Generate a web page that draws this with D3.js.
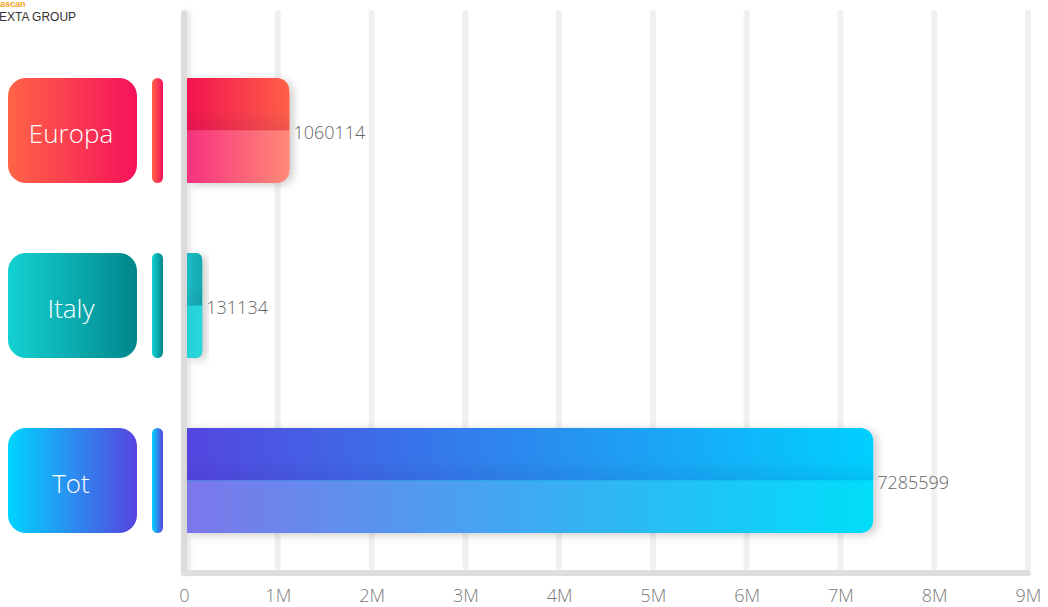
<!DOCTYPE html>
<html>
<head>
<meta charset="utf-8">
<script src="https://cdn.jsdelivr.net/npm/d3@7"></script>
<style>
  html, body { margin: 0; padding: 0; background: #fff; }
  svg { display: block; }
  text { font-family: "Open Sans", "Noto Sans", sans-serif; }
</style>
</head>
<body>
<svg id="chart" width="1048" height="607"></svg>
<script>
// Data
const categories = ["Europa", "Italy", "Tot"];
const values = [1060114, 131134, 7285599];
const tickValues = [0, 1e6, 2e6, 3e6, 4e6, 5e6, 6e6, 7e6, 8e6, 9e6];
const tickLabels = ["0", "1M", "2M", "3M", "4M", "5M", "6M", "7M", "8M", "9M"];

// Colour themes per category: box / pill gradient, bar top half, bar bottom half
const boxColors = [["#ff6446", "#f5125a"], ["#14d2d2", "#00868c"], ["#00d4ff", "#5745e0"]];
const barTopColors = [["#f2134f", "#ff5f49"], ["#1cbcc3", "#14a8b0"], ["#5446df", "#00d0ff"]];
const barBottomColors = [["#f6327f", "#ff8a76"], ["#22d0d6", "#2ad8dc"], ["#7c77ea", "#00def9"]];

const svg = d3.select("#chart");
const defs = svg.append("defs");

const x = d3.scaleLinear().domain([0, 9e6]).range([184, 1028]);
const y = d3.scaleBand().domain(categories).range([43, 568]).paddingInner(0.4).paddingOuter(0.2);

function hGrad(id, c) {
  const g = defs.append("linearGradient").attr("id", id)
    .attr("x1", "0%").attr("x2", "100%").attr("y1", "0%").attr("y2", "0%");
  g.append("stop").attr("offset", "0%").attr("stop-color", c[0]);
  g.append("stop").attr("offset", "100%").attr("stop-color", c[1]);
}
categories.forEach((c, i) => {
  hGrad("box" + i, boxColors[i]);
  hGrad("top" + i, barTopColors[i]);
  hGrad("bot" + i, barBottomColors[i]);
});
// slight darkening towards the middle line of each bar
const shade = defs.append("linearGradient").attr("id", "shade")
  .attr("x1", "0%").attr("x2", "0%").attr("y1", "0%").attr("y2", "100%");
shade.append("stop").attr("offset", "0%").attr("stop-color", "#000").attr("stop-opacity", 0);
shade.append("stop").attr("offset", "60%").attr("stop-color", "#000").attr("stop-opacity", 0);
shade.append("stop").attr("offset", "100%").attr("stop-color", "#200080").attr("stop-opacity", 0.08);

const shadow = defs.append("filter").attr("id", "shadow")
  .attr("x", "-20%").attr("y", "-20%").attr("width", "160%").attr("height", "140%");
shadow.append("feDropShadow").attr("dx", 4).attr("dy", 2).attr("stdDeviation", 4)
  .attr("flood-color", "#000").attr("flood-opacity", 0.2);

const axisShadow = defs.append("filter").attr("id", "axisShadow")
  .attr("x", "-200%").attr("y", "-5%").attr("width", "500%").attr("height", "110%");
axisShadow.append("feDropShadow").attr("dx", 3).attr("dy", 0).attr("stdDeviation", 2.5)
  .attr("flood-color", "#000").attr("flood-opacity", 0.1);

// Logo fragment, top-left
svg.append("text").attr("x", 0).attr("y", 7)
  .style("font-family", "Liberation Sans, Arial, sans-serif")
  .style("font-weight", "bold").style("font-size", "9px").attr("fill", "#f4a11a")
  .text("ascan");
svg.append("text").attr("x", -1).attr("y", 21)
  .style("font-family", "Liberation Sans, Arial, sans-serif")
  .style("font-size", "12px").attr("fill", "#333")
  .text("EXTA GROUP");

// Vertical gridlines
svg.append("g").selectAll("rect").data(tickValues.slice(1)).join("rect")
  .attr("x", d => x(d) - 3).attr("width", 6)
  .attr("y", 10).attr("height", 560).attr("rx", 3)
  .attr("fill", "#f0f0f0");

// Axis lines
svg.append("rect").attr("x", x(0) - 3).attr("width", 6).attr("y", 10).attr("height", 566).attr("rx", 3)
  .attr("fill", "#dcdcdc").attr("filter", "url(#axisShadow)");
svg.append("rect").attr("x", x(0) - 3).attr("width", x(9e6) - x(0) + 6).attr("y", 570).attr("height", 6).attr("rx", 3)
  .attr("fill", "#dedede");

// Tick labels via d3 axis
const xAxis = d3.axisBottom(x).tickValues(tickValues)
  .tickFormat((d, i) => tickLabels[i]).tickSize(0).tickPadding(0);
const gx = svg.append("g").attr("transform", "translate(0,596)").call(xAxis);
gx.select(".domain").remove();
gx.selectAll("text").attr("fill", "#7a7a7a").attr("dy", "0.35em")
  .style("font-size", "18px").style("font-weight", 300)
  .style("font-family", "'Open Sans', 'Noto Sans', sans-serif");

// Category boxes and pills
const rows = svg.append("g").selectAll("g").data(categories).join("g");
rows.append("rect")
  .attr("x", 8).attr("y", d => y(d)).attr("width", 129).attr("height", y.bandwidth())
  .attr("rx", 18).attr("fill", (d, i) => `url(#box${i})`);
rows.append("text")
  .attr("x", 71).attr("y", d => y(d) + y.bandwidth() / 2 + 3).attr("dy", "0.35em")
  .attr("text-anchor", "middle").attr("fill", "#fff")
  .style("font-size", "26px").style("font-weight", 300)
  .text(d => d);
rows.append("rect")
  .attr("x", 152).attr("y", d => y(d)).attr("width", 11).attr("height", y.bandwidth())
  .attr("rx", 5.5).attr("fill", (d, i) => `url(#box${i})`);

// Bars: square left edge, rounded right edge
function barPath(x0, x1, y0, h, r) {
  r = Math.min(r, (x1 - x0) / 2, h / 2);
  return `M${x0},${y0}H${x1 - r}Q${x1},${y0} ${x1},${y0 + r}V${y0 + h - r}` +
    `Q${x1},${y0 + h} ${x1 - r},${y0 + h}H${x0}Z`;
}
const barX0 = x(0) + 3;
const barEnd = v => x(v) + 6;

categories.forEach((c, i) => {
  const y0 = y(c), h = y.bandwidth(), x1 = barEnd(values[i]);
  defs.append("clipPath").attr("id", "clip" + i)
    .append("path").attr("d", barPath(barX0, x1, y0, h, 15));
  const g = svg.append("g");
  g.append("path").attr("d", barPath(barX0, x1, y0, h, 15))
    .attr("fill", barTopColors[i][1]).attr("filter", "url(#shadow)");
  const inner = g.append("g").attr("clip-path", `url(#clip${i})`);
  inner.append("rect").attr("x", barX0).attr("y", y0).attr("width", x1 - barX0).attr("height", h / 2)
    .attr("fill", `url(#top${i})`);
  inner.append("rect").attr("x", barX0).attr("y", y0).attr("width", x1 - barX0).attr("height", h / 2)
    .attr("fill", "url(#shade)");
  inner.append("rect").attr("x", barX0).attr("y", y0 + h / 2).attr("width", x1 - barX0).attr("height", h / 2)
    .attr("fill", `url(#bot${i})`);
  svg.append("text")
    .attr("x", x1 + 4).attr("y", y0 + h / 2 + 2).attr("dy", "0.35em")
    .attr("fill", "#666").style("font-size", "18px").style("font-weight", 300)
    .text(values[i]);
});
</script>
</body>
</html>
